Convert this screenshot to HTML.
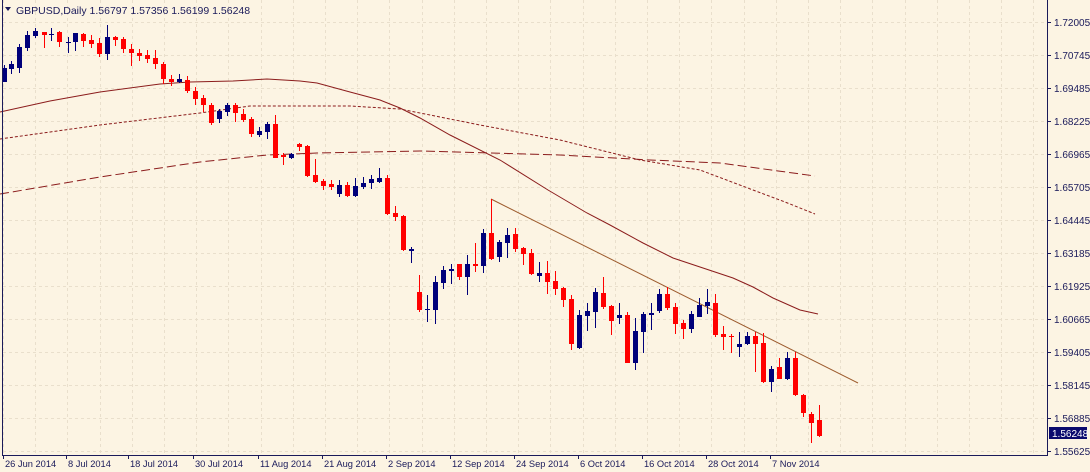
<!DOCTYPE html>
<html><head><meta charset="utf-8"><style>
html,body{margin:0;padding:0;background:#fcf4e3;}
svg{display:block;font-family:"Liberation Sans",sans-serif;}
</style></head><body>
<svg id="c" width="1090" height="472" viewBox="0 0 1090 472" xmlns="http://www.w3.org/2000/svg">
<rect x="0" y="0" width="1090" height="472" fill="#fcf4e3"/>
<g id="grid" stroke="#e9dfcc" stroke-width="1" stroke-dasharray="3,3"></g>
<g id="ma" fill="none" stroke="#8b1c1c" stroke-width="1">
<polyline points="0,112 50,101 100,92 160,84 190,82 233,81 267,79 300,81 317,83 350,92 380,100 400,108 420,118 450,135 500,160 548,190 587,213 610,225 643,243 673,258 703,268 733,278 753,287 773,298 800,310 818,314"/>
<polyline stroke-dasharray="3,2" points="0,139 100,125 200,113 250,106 350,106 400,109 440,117 480,125 560,140 640,160 700,170 753,190 785,202 815,214"/>
<polyline stroke-dasharray="9,4" points="0,194 100,177 200,162 267,155 317,153 420,151 560,155 650,160 720,163 815,176"/>
</g>
<line x1="491" y1="199" x2="858" y2="383" stroke="#9c5a2c" stroke-width="1"/>
<g id="cd"></g>
<line x1="2.5" y1="0" x2="2.5" y2="455" stroke="#1a1a5a"/>
<line x1="1047.5" y1="0" x2="1047.5" y2="455" stroke="#1a1a5a"/>
<line x1="2" y1="455.5" x2="1048" y2="455.5" stroke="#1a1a5a"/>
<g id="ax" font-size="10" fill="#1a1a5a"></g>
<rect x="1049" y="427" width="38" height="12" fill="#0a0a6e"/>
<text x="1052" y="437" font-size="10" fill="#fff">1.56248</text>
<polygon points="5,7 11,7 8,11" fill="#1a1a5a"/>
<text x="16" y="14" font-size="10.5" fill="#1a1a5a">GBPUSD,Daily  1.56797 1.57356 1.56199 1.56248</text>
</svg>
<script>
var NS="http://www.w3.org/2000/svg";
function el(p,t,a){var e=document.createElementNS(NS,t);for(var k in a)e.setAttribute(k,a[k]);p.appendChild(e);return e;}
var g=document.getElementById('grid');
for(var x=3;x<1047;x+=32.2){el(g,'line',{x1:Math.round(x)+.5,y1:0,x2:Math.round(x)+.5,y2:455});}
var labs=["1.72005","1.70745","1.69485","1.68225","1.66965","1.65705","1.64445","1.63185","1.61925","1.60665","1.59405","1.58145","1.56885","1.55625"];
var ax=document.getElementById('ax');
labs.forEach(function(l,i){var y=22+33*i;el(g,'line',{x1:3,y1:y+.5,x2:1047,y2:y+.5});el(ax,'line',{x1:1047,y1:y+.5,x2:1051,y2:y+.5,stroke:"#1a1a5a"});var t=el(ax,'text',{x:1054,y:y+4});t.textContent=l;});
var dates=[[3,"26 Jun 2014"],[66,"8 Jul 2014"],[128,"18 Jul 2014"],[193,"30 Jul 2014"],[258,"11 Aug 2014"],[322,"21 Aug 2014"],[386,"2 Sep 2014"],[450,"12 Sep 2014"],[514,"24 Sep 2014"],[578,"6 Oct 2014"],[642,"16 Oct 2014"],[706,"28 Oct 2014"],[770,"7 Nov 2014"]];
dates.forEach(function(d){el(ax,'line',{x1:d[0]+.5,y1:455,x2:d[0]+.5,y2:459,stroke:"#1a1a5a"});var t=el(ax,'text',{x:d[0]+2,y:467,'font-size':9.3});t.textContent=d[1];});
var C=[[4,68,82,65,82,'b'],[11,64,69,61,74,'b'],[19,47,68,44,73,'b'],[27,35,48,31,51,'b'],[35,31,36,28,38,'b'],[44,32,35,32,48,'r'],[51,34,34,28,41,'b'],[59,32,42,31,47,'r'],[68,42,42,37,53,'b'],[75,33,42,33,51,'b'],[83,34,41,33,47,'r'],[91,40,44,35,48,'r'],[99,43,54,38,57,'r'],[107,37,54,25,60,'b'],[115,37,40,36,46,'r'],[123,39,49,37,53,'r'],[131,49,53,44,66,'r'],[139,53,56,49,61,'r'],[147,55,59,50,63,'r'],[155,58,64,50,69,'r'],[163,64,79,62,84,'r'],[171,79,82,75,86,'r'],[179,79,82,74,83,'b'],[187,80,91,76,93,'r'],[195,91,99,87,105,'r'],[203,98,105,95,112,'r'],[211,105,123,103,125,'r'],[219,111,119,109,123,'b'],[227,105,112,103,116,'b'],[235,105,113,103,122,'r'],[243,114,120,109,122,'r'],[251,119,134,117,137,'r'],[259,131,135,127,137,'b'],[267,124,132,122,139,'b'],[275,124,158,115,158,'r'],[283,155,157,153,165,'r'],[291,154,158,153,159,'b'],[299,144,147,143,151,'r'],[307,146,176,145,177,'r'],[315,175,182,159,183,'r'],[323,181,186,179,190,'r'],[331,184,187,180,190,'r'],[339,185,194,180,197,'b'],[347,185,196,182,197,'r'],[355,186,196,178,197,'b'],[363,183,187,177,189,'b'],[371,179,183,175,189,'b'],[379,178,182,168,183,'b'],[387,178,214,175,215,'r'],[395,213,217,206,221,'r'],[403,216,250,215,251,'r'],[411,249,251,247,263,'b'],
[419,292,310,275,312,'r'],[427,309,309,295,322,'b'],[435,282,310,276,324,'b'],[443,270,283,266,289,'b'],[451,269,271,264,284,'b'],[459,264,277,264,280,'r'],[467,264,277,255,295,'b'],[475,264,266,243,272,'r'],[483,233,266,229,273,'b'],[491,233,259,199,260,'r'],[499,242,257,240,262,'b'],[507,235,243,228,258,'b'],[515,234,249,228,252,'r'],[523,248,254,247,265,'r'],[531,253,274,249,275,'r'],[539,273,276,262,282,'b'],[547,273,282,261,294,'r'],[555,281,289,271,295,'r'],[563,288,300,287,307,'r'],[571,299,344,295,350,'r'],[579,315,348,310,349,'b'],[587,311,316,303,331,'b'],[595,292,312,288,328,'b'],[603,293,307,277,309,'r'],[611,306,321,305,335,'r'],[619,315,318,303,324,'b'],[627,315,363,312,363,'r'],[635,331,363,318,370,'b'],[643,314,332,312,353,'b'],[651,313,315,303,330,'b'],[659,294,311,289,313,'b'],[667,294,308,287,310,'r'],[675,307,324,303,334,'r'],[683,323,329,320,339,'r'],[691,314,329,311,333,'b'],[699,305,317,298,317,'b'],[707,302,306,289,314,'b'],[715,303,335,294,337,'r'],[723,334,337,326,350,'r'],[731,336,337,334,353,'r'],[739,344,347,332,357,'b'],[747,336,344,332,345,'b'],[755,336,344,332,372,'r'],[763,343,382,333,383,'r'],[771,369,382,366,392,'b'],[779,367,379,358,379,'r'],[787,358,379,352,380,'b'],[795,358,395,352,396,'r'],[803,395,413,394,417,'r'],[811,414,423,412,443,'r'],[819,420,436,405,437,'r']];
var cd=document.getElementById('cd');
C.forEach(function(c){var col=c[5]=='r'?'#ff0000':'#00007a';
el(cd,'line',{x1:c[0]+.5,y1:c[3],x2:c[0]+.5,y2:c[4],stroke:col,'stroke-width':1});
var h=Math.max(1,c[2]-c[1]);el(cd,'rect',{x:c[0]-2,y:c[1],width:5,height:h,fill:col});});
</script>
</body></html>
